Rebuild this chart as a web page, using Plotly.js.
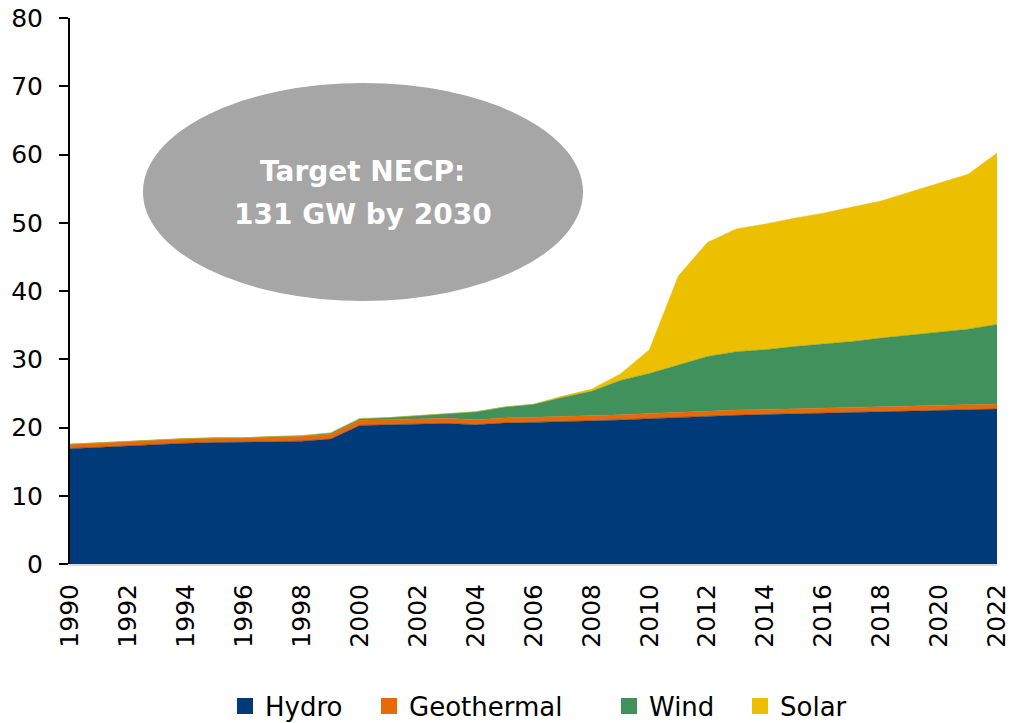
<!DOCTYPE html>
<html>
<head>
<meta charset="utf-8">
<script src="https://cdn.plot.ly/plotly-3.0.1.min.js"></script>
<style>html,body{margin:0;padding:0;background:#fff}#chart{width:1015px;height:723px}</style>
</head>
<body>
<div id="chart"></div>
<script>
const years = [1990,1991,1992,1993,1994,1995,1996,1997,1998,1999,2000,2001,2002,2003,2004,2005,2006,2007,2008,2009,2010,2011,2012,2013,2014,2015,2016,2017,2018,2019,2020,2021,2022];
const hydro = [16.9,17.1,17.3,17.6,17.7,17.8,17.8,17.9,18.0,18.3,20.3,20.4,20.5,20.6,20.4,20.65,20.75,20.85,20.95,21.1,21.3,21.5,21.7,21.8,21.9,22.0,22.1,22.2,22.3,22.4,22.5,22.6,22.7];
const geothermal = [0.65,0.65,0.65,0.65,0.65,0.65,0.65,0.7,0.7,0.7,0.75,0.75,0.75,0.75,0.75,0.75,0.75,0.75,0.75,0.75,0.75,0.75,0.75,0.75,0.75,0.75,0.75,0.75,0.75,0.75,0.75,0.75,0.75];
const wind = [0.0,0.0,0.0,0.0,0.02,0.03,0.05,0.08,0.1,0.2,0.25,0.3,0.45,0.65,1.15,1.6,1.9,2.8,3.6,5.05,5.85,6.9,7.95,8.55,8.75,9.1,9.35,9.65,10.05,10.4,10.65,11.05,11.65];
const solar = [0,0,0,0,0,0,0,0,0,0,0,0,0,0,0,0,0.02,0.2,0.3,0.95,3.5,13.05,16.7,18.0,18.4,18.8,19.2,19.7,20.1,20.95,21.9,22.7,25.1];
const seriesNames = ["Hydro","Geothermal","Wind","Solar"];
const colors = ["#003a78","#e8690b","#41915c","#ecbf00"];
const annotationLines = ["Target NECP:", "131 GW by 2030"];

const values = [hydro, geothermal, wind, solar];
const legendIds = ["legend","legend2","legend3","legend4"];
const traces = values.map((v,i)=>({
  x: years, y: v, name: seriesNames[i], type: 'scatter', mode: 'lines',
  stackgroup: 'one', fillcolor: colors[i], showlegend: false,
  line: {width: 0.5, color: colors[i]}, hoverinfo: 'x+y+name'
}));
// legend entries (square swatches), one legend box per entry
seriesNames.forEach((n,i)=>traces.push({
  x: [null], y: [null], name: n, type: 'scatter', mode: 'markers', legend: legendIds[i],
  marker: {symbol: 'square', size: 17, color: colors[i]}, showlegend: true
}));

const font = "DejaVu Sans, sans-serif";
const legendX = [235, 379, 619, 750];
const layout = {
  width: 1015, height: 723,
  margin: {l: 70, r: 18, t: 18, b: 159, autoexpand: false},
  paper_bgcolor: '#fff', plot_bgcolor: '#fff',
  font: {family: font, size: 25, color: '#000'},
  showlegend: true,
  xaxis: {range: [1990, 2022], dtick: 2, tick0: 1990, tickangle: -90, showgrid: false,
          zeroline: false, showline: true, linecolor: '#d9d9d9', linewidth: 2,
          ticks: '', ticklabelstandoff: 8, automargin: false,
          tickfont: {family: font, size: 25, color: '#000'}},
  yaxis: {range: [0, 80], dtick: 10, showgrid: false, zeroline: false, showline: true,
          linecolor: '#000', linewidth: 2, ticks: 'outside', ticklen: 9, tickwidth: 2,
          tickcolor: '#000', ticklabelstandoff: 11, automargin: false,
          tickfont: {family: font, size: 25, color: '#000'}},
  shapes: [{type: 'circle', xref: 'paper', yref: 'paper', x0: 0.0787, x1: 0.5534,
            y0: 0.4817, y1: 0.881, fillcolor: '#a6a6a6', line: {width: 0}, layer: 'above'}],
  annotations: annotationLines.map((t,i)=>({
    xref: 'paper', yref: 'paper', x: 0.316, y: [0.718, 0.641][i], xanchor: 'center', yanchor: 'middle',
    text: t, showarrow: false,
    font: {family: font, size: 28, color: '#fff', weight: 'bold'}}))
};
legendIds.forEach((id,i)=>{
  layout[id] = {orientation: 'h', xref: 'container', yref: 'container',
    x: (legendX[i] - 10) / 1015, xanchor: 'left', y: 0.0235, yanchor: 'middle',
    itemwidth: 30, bgcolor: 'rgba(0,0,0,0)', borderwidth: 0,
    font: {family: font, size: 26, color: '#000'}};
});
Plotly.newPlot('chart', traces, layout, {displayModeBar: false, staticPlot: true});
</script>
</body>
</html>
